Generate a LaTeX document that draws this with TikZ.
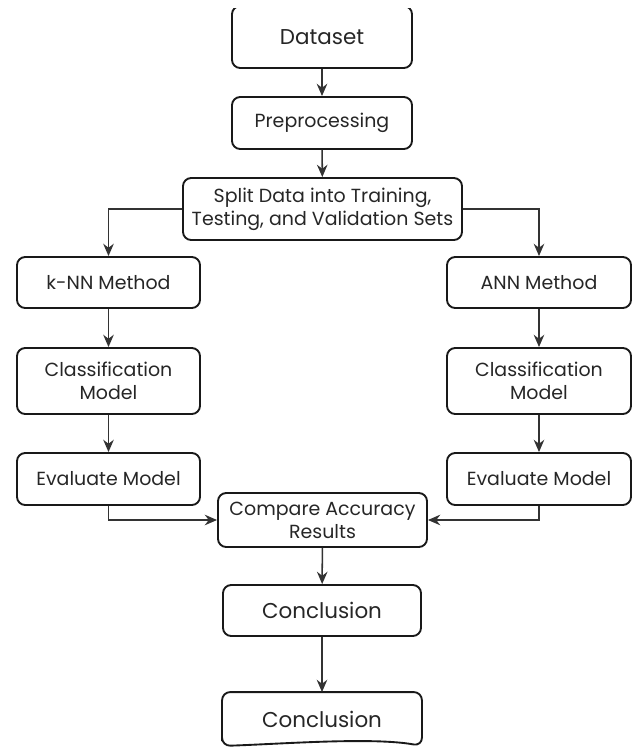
\documentclass[tikz,border=0pt]{standalone}
\usepackage{fontspec}
\setmainfont{Poppins}
\usetikzlibrary{calc}
\usetikzlibrary{arrows.meta}

\tikzset{
  stepbox/.style={draw=black!90, line width=1.6pt, rounded corners=7pt, align=center,
    inner sep=0pt, text=black!85, font=\fontsize{16.2}{19.5}\selectfont},
  bigtext/.style={font=\fontsize{18.3}{21}\selectfont},
  flow/.style={draw=black!80, line width=1.3pt, -{Stealth[length=10.5pt,width=9pt]}}
}

\begin{document}
\begin{tikzpicture}[x=0.03cm, y=-0.03cm]
\useasboundingbox (0,0) rectangle (632,747);
\clip (0,8) rectangle (632,747);

\node[stepbox, bigtext, minimum width=5.4cm, minimum height=1.86cm] (data) at (322,37) {Dataset};
\node[stepbox, minimum width=5.4cm, minimum height=1.56cm] (prep) at (322,123) {Preprocessing};
\node[stepbox, minimum width=8.37cm, minimum height=1.86cm] (split) at (322.5,209) {Split Data into Training,\\Testing, and Validation Sets};
\node[stepbox, minimum width=6.27cm, minimum height=1.62cm] (compare) at (322.5,520) {Compare Accuracy\\Results};
\node[stepbox, bigtext, minimum width=5.94cm, minimum height=1.53cm] (concl) at (322,610.5) {Conclusion};
\node[stepbox, bigtext, draw=none, minimum width=5.94cm, minimum height=1.56cm] (report) at (322,719) {Conclusion};
\draw[draw=black!90, line width=1.6pt, rounded corners=7pt] (report.south west) -- (report.north west) -- (report.north east) -- (report.south east)
  .. controls ($(report.south)+(50,-9)$) and ($(report.south)+(-40,-2)$) .. (report.south west) -- cycle;

\draw[flow] (data) -- (prep);
\draw[flow] (prep) -- (split);

\foreach \s/\xc/\w/\lbl in {l/108.5/5.49cm/k-NN, r/539/5.52cm/ANN} {
  \node[stepbox, minimum width=\w, minimum height=1.53cm] (meth\s) at (\xc,282.5) {\lbl\ Method};
  \node[stepbox, minimum width=\w, minimum height=1.98cm] (class\s) at (\xc,381) {Classification\\Model};
  \node[stepbox, minimum width=\w, minimum height=1.56cm] (eval\s) at (\xc,479) {Evaluate Model};
  \draw[flow] (split) -| (meth\s);
  \draw[flow] (meth\s) -- (class\s);
  \draw[flow] (class\s) -- (eval\s);
  \draw[flow] (eval\s) |- (compare);
}

\draw[flow] (compare) -- (concl);
\draw[flow] (concl) -- (report);
\end{tikzpicture}
\end{document}
